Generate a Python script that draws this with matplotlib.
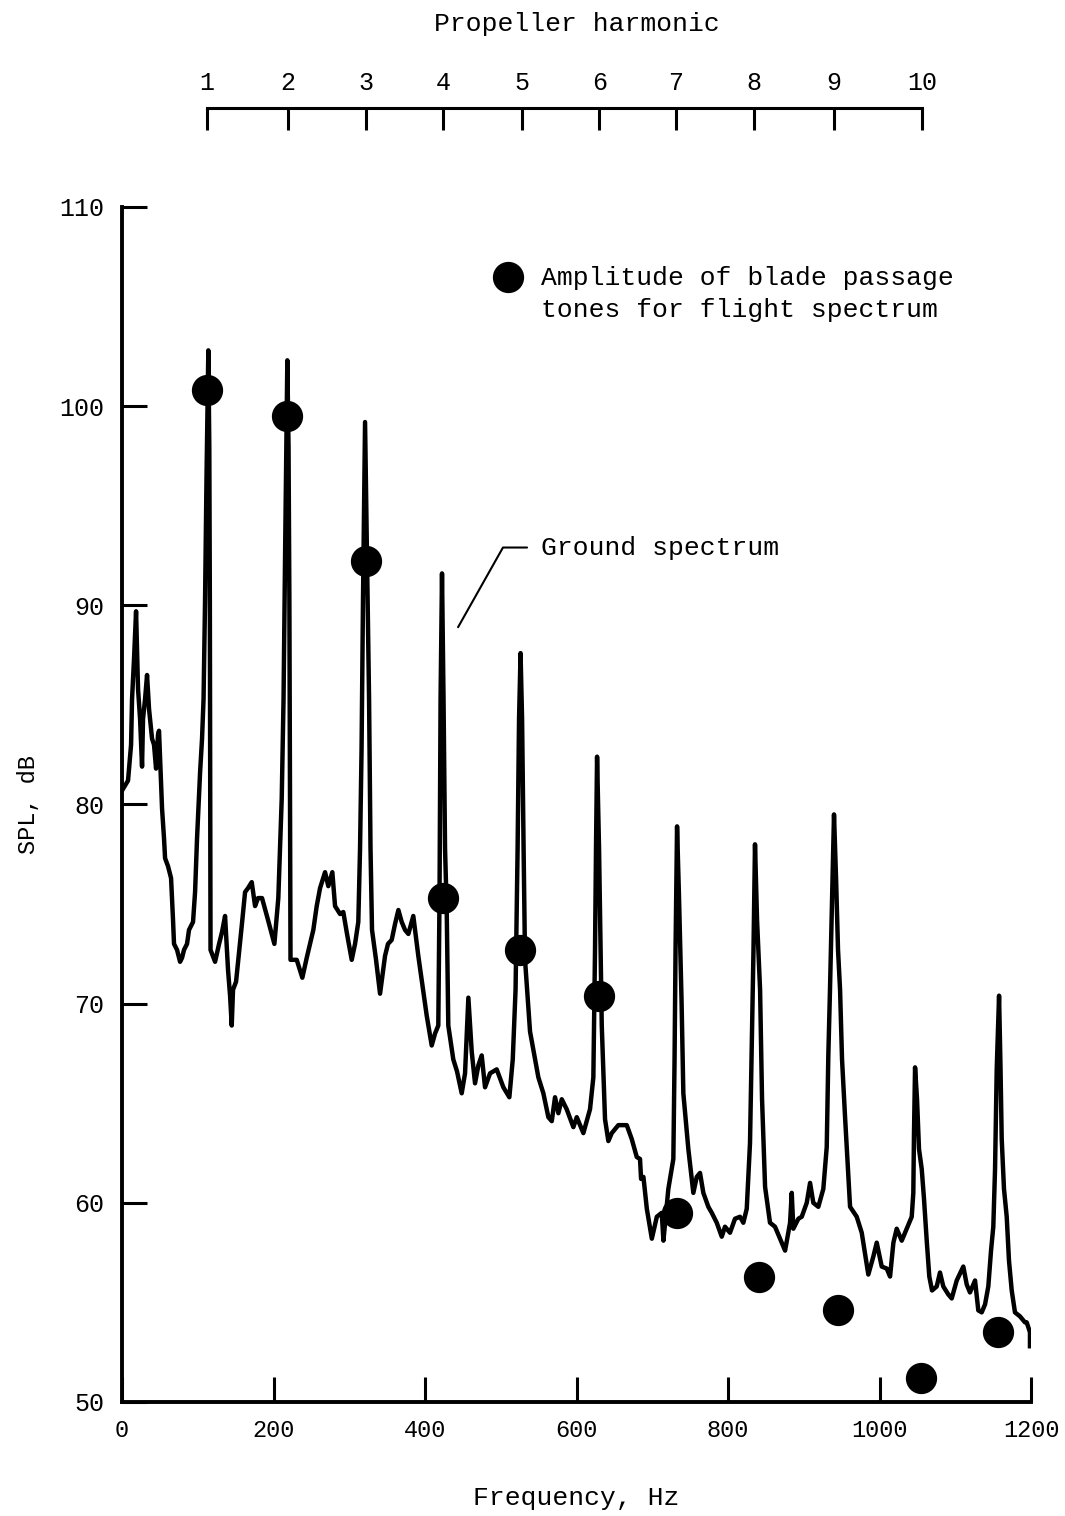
import matplotlib
matplotlib.use('Agg')
import matplotlib.pyplot as plt
from matplotlib.legend_handler import HandlerLine2D

plt.rcParams['font.family'] = ['Liberation Mono', 'DejaVu Sans Mono']

#*********Ground spectrum (traced)************
freq = [0, 7.9, 11.9, 13.2, 15.8, 18.5, 21.1, 23.8, 26.4, 27.7, 30.4, 33.0, 35.6, 39.6, 42.2, 44.9,
        47.5, 48.8, 50.2, 52.8, 55.4, 56.8, 60.7, 64.7, 67.3, 68.6, 72.6, 76.6, 79.2, 81.8, 85.8,
        88.4, 93.7, 96.4, 99.0, 103.0, 105.6, 107.6, 109.6, 111.5, 113.9, 115.2, 115.9, 116.4, 116.8,
        122.8, 128.1, 132.0, 136.0, 139.9, 142.6, 144.8, 146.5, 150.5, 158.0, 162.4, 166.3, 171.2,
        175.6, 179.5, 184.8, 192.7, 201.1, 206.3, 210.8, 213.2, 215.2, 216.9, 218.2, 219.8, 220.9,
        221.8, 222.4, 230.6, 238.0, 243.8, 252.5, 257.0, 261.4, 268.0, 272.3, 277.6, 281.2, 287.8,
        292.1, 297.0, 303.2, 307.6, 311.9, 314.2, 316.2, 318.1, 320.8, 323.4, 326.1, 328.0, 330.0,
        335.3, 340.6, 347.2, 351.1, 356.0, 360.4, 364.8, 369.2, 373.6, 378.0, 384.5, 391.1, 397.7,
        402.2, 408.8, 413.2, 417.5, 419.1, 420.5, 422.4, 424.4, 426.4, 428.6, 430.7, 437.3, 442.2,
        448.4, 452.8, 457.2, 461.6, 466.0, 470.4, 474.8, 479.2, 485.8, 494.6, 503.4, 511.3, 515.8,
        519.5, 522.2, 524.1, 526.1, 528.1, 530.1, 532.0, 538.6, 549.6, 556.2, 562.8, 567.3, 571.6,
        576.0, 580.5, 587.0, 595.8, 600.3, 609.0, 617.8, 622.2, 624.4, 625.7, 627.1, 629.7, 631.7,
        633.3, 637.6, 642.0, 646.5, 655.2, 666.3, 672.9, 679.5, 683.8, 685.2, 688.3, 692.8, 699.4,
        706.0, 712.5, 714.7, 721.2, 727.8, 729.4, 730.7, 732.7, 735.3, 738.6, 741.0, 747.6, 754.2,
        758.7, 763.0, 767.4, 774.0, 778.5, 785.1, 791.7, 796.0, 802.6, 809.2, 815.8, 820.2, 824.7,
        829.0, 831.7, 833.6, 835.6, 838.3, 842.3, 844.9, 848.9, 855.4, 862.0, 868.6, 875.3, 881.9,
        884.1, 886.2, 892.8, 897.3, 903.9, 908.3, 912.6, 919.2, 925.8, 930.3, 932.4, 934.6, 937.3,
        939.9, 942.6, 945.2, 947.9, 950.5, 954.5, 961.1, 969.9, 976.5, 985.2, 991.8, 996.3, 1002.9,
        1009.5, 1013.9, 1018.3, 1022.7, 1029.3, 1035.9, 1042.5, 1044.6, 1045.5, 1046.9, 1049.5,
        1052.1, 1055.7, 1058.7, 1062.3, 1065.7, 1069.3, 1075.5, 1079.8, 1084.2, 1090.8, 1095.3,
        1101.9, 1110.6, 1115.1, 1119.4, 1126.1, 1130.4, 1134.9, 1139.3, 1143.6, 1147.2, 1150.2,
        1152.5, 1154.7, 1157.8, 1159.7, 1161.3, 1164.3, 1167.9, 1170.9, 1174.5, 1178.8, 1185.4,
        1192.0, 1194.3, 1198.6, 1198.6]
spl = [80.7, 81.2, 83.0, 85.3, 87.3, 89.7, 85.8, 84.3, 81.9, 84.3, 85.3, 86.5, 84.8, 83.3, 83.0, 81.8,
       83.5, 83.7, 82.3, 79.8, 78.3, 77.3, 76.9, 76.3, 74.2, 73.0, 72.7, 72.1, 72.3, 72.7, 73.0,
       73.7, 74.1, 75.6, 78.3, 81.6, 83.3, 85.3, 90.3, 96.4, 102.8, 97.9, 90.3, 80.3, 72.7,
       72.1, 73.0, 73.6, 74.4, 71.7, 70.4, 68.9, 70.7, 71.1, 73.9, 75.6, 75.8, 76.1,
       74.9, 75.3, 75.3, 74.2, 73.0, 75.3, 80.3, 85.3, 92.4, 97.9, 102.3, 97.9, 90.3,
       80.3, 72.2, 72.2, 71.3, 72.3, 73.7, 74.9, 75.8, 76.6, 75.9, 76.6, 74.9, 74.5,
       74.6, 73.5, 72.2, 73.0, 74.1, 77.8, 82.8, 90.3, 99.2, 92.4, 85.3, 77.8, 73.7,
       72.2, 70.5, 72.4, 73.0, 73.2, 74.0, 74.7, 74.1, 73.7, 73.5, 74.4, 72.4, 70.6,
       69.4, 67.9, 68.5, 68.9, 75.3, 85.3, 91.6, 85.3, 77.8, 74.7, 68.9, 67.2, 66.6,
       65.5, 66.5, 70.3, 67.6, 66.0, 66.9, 67.4, 65.8, 66.5, 66.7, 65.8, 65.3, 67.2,
       70.7, 77.8, 84.3, 87.6, 84.3, 77.8, 72.2, 68.6, 66.3, 65.5, 64.3, 64.1, 65.3,
       64.5, 65.2, 64.7, 63.8, 64.3, 63.5, 64.7, 66.3, 72.7, 77.8, 82.4, 77.8, 72.7,
       68.9, 64.2, 63.1, 63.5, 63.9, 63.9, 63.2, 62.3, 62.2, 61.2, 61.3, 59.7, 58.2,
       59.3, 59.5, 58.1, 60.7, 62.2, 67.2, 72.7, 78.9, 75.3, 70.2, 65.5, 62.7, 60.5,
       61.3, 61.5, 60.5, 59.8, 59.5, 59.0, 58.3, 58.8, 58.5, 59.2, 59.3, 59.0, 59.7,
       63.0, 68.7, 72.7, 78.0, 74.2, 70.7, 65.2, 60.8, 59.0, 58.8, 58.2, 57.6, 59.0,
       60.5, 58.7, 59.2, 59.3, 60.0, 61.0, 60.0, 59.8, 60.7, 62.8, 67.4, 70.7, 75.3,
       79.5, 76.3, 72.7, 70.7, 67.2, 64.3, 59.8, 59.3, 58.5, 56.4, 57.3, 58.0, 56.8,
       56.7, 56.3, 58.0, 58.7, 58.1, 58.7, 59.3, 60.5, 63.5, 66.8, 65.2,
       62.7, 61.7, 60.2, 58.1, 56.3, 55.6, 55.8, 56.5, 55.8, 55.4, 55.2,
       56.1, 56.8, 55.9, 55.5, 56.1, 54.6, 54.5, 54.9, 55.8, 57.6, 58.8,
       61.7, 66.7, 70.4, 66.8, 63.2, 60.7, 59.3, 57.1, 55.6, 54.5, 54.3,
       54.0, 54.0, 53.5, 52.8]

#*********Blade passage tones, flight************
flight_freq = [112, 218, 322, 424, 526, 629, 732, 841, 945, 1055, 1157]
flight_spl = [100.8, 99.5, 92.2, 75.3, 72.7, 70.4, 59.5, 56.3, 54.6, 51.2, 53.5]

#*********Propeller harmonics (top scale)************
harm_num = [1, 2, 3, 4, 5, 6, 7, 8, 9, 10]
harm_freq = [112, 219, 322, 424, 528, 630, 731, 834, 940, 1056]


class RaisedHandler(HandlerLine2D):
    # puts the legend dot level with the first line of a two-line label
    def __init__(self, lift=0, **kw):
        super().__init__(**kw)
        self.lift = lift

    def create_artists(self, legend, orig_handle, xdescent, ydescent, width, height, fontsize, trans):
        arts = super().create_artists(legend, orig_handle, xdescent, ydescent, width, height,
                                      fontsize, trans)
        for a in arts:
            a.set_ydata([y + self.lift for y in a.get_ydata()])
        return arts


#------------------Plot------------------------------
fig = plt.figure(figsize=(10.65, 15.16), dpi=100)
ax = fig.add_axes([0.1146, 0.0752, 0.8535, 0.7883])

ax.plot(freq, spl, color='black', lw=3.2, solid_joinstyle='round', zorder=2)
ax.plot(flight_freq, flight_spl, 'o', color='black', ms=21.5, zorder=3,
        label='Amplitude of blade passage\ntones for flight spectrum')

ax.set_xlim(0, 1200)
ax.set_ylim(50, 110)
ax.set_xticks(range(0, 1201, 200))
ax.set_yticks(range(50, 111, 10))
for s in ['top', 'right']:
    ax.spines[s].set_visible(False)
for s in ['left', 'bottom']:
    ax.spines[s].set_linewidth(2.8)
ax.tick_params(axis='both', direction='in', length=18, width=2.2)
ax.tick_params(axis='x', labelsize=17, pad=12)
ax.tick_params(axis='y', labelsize=18, pad=13)
ax.set_xlabel('Frequency, Hz', fontsize=19, labelpad=32)
ax.set_ylabel('SPL, dB', fontsize=17, labelpad=14)

leg = ax.legend(loc='upper left', bbox_to_anchor=(0.4103, 0.9507), frameon=False, fontsize=19,
                handlelength=1.0, handletextpad=0.75, borderpad=0, borderaxespad=0,
                handler_map={ax.lines[1]: RaisedHandler(lift=11.9, numpoints=1)})
leg.get_texts()[0].set_linespacing(1.41)

ax.annotate('Ground spectrum', xy=(443.6, 88.9), xytext=(553, 92.9), fontsize=19,
            va='center', ha='left',
            arrowprops=dict(arrowstyle='-', lw=1.5, color='black', shrinkA=8, shrinkB=0,
                            connectionstyle='angle,angleA=0,angleB=60.6,rad=0'))

#**********Top harmonic scale***************
axt = fig.add_axes([0.1146, 0.90876, 0.8535, 0.02])
axt.set_xlim(0, 1200)
axt.patch.set_visible(False)
for s in ['left', 'right', 'bottom']:
    axt.spines[s].set_visible(False)
axt.spines['top'].set_linewidth(2.2)
axt.spines['top'].set_bounds(harm_freq[0], harm_freq[-1])
axt.set_yticks([])
axt.xaxis.tick_top()
axt.set_xticks(harm_freq)
axt.set_xticklabels([str(n) for n in harm_num])
axt.tick_params(axis='x', direction='in', length=16, width=2.2, labelsize=18, pad=9)
axt.xaxis.set_label_position('top')
axt.set_xlabel('Propeller harmonic', fontsize=19, labelpad=29)

plt.savefig('out.png', dpi=100)
